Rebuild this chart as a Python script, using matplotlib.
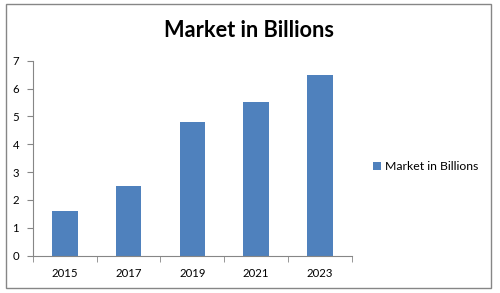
import numpy as np
import matplotlib.pyplot as plt
from matplotlib.patches import Rectangle

years = ["2015", "2017", "2019", "2021", "2023"]
market = [1.6, 2.5, 4.8, 5.5, 6.5]
y_ticks = [0, 1, 2, 3, 4, 5, 6, 7]

plt.rcParams['font.family'] = ['Lato', 'DejaVu Sans']

fig = plt.figure(figsize=(5, 2.93), dpi=100)
ax = fig.add_axes([0.066, 0.1273, 0.6374, 0.6655])

x = np.arange(len(years))
ax.bar(x, market, width=0.4, color="#4F81BD", label="Market in Billions")

ax.set_xlim(-0.5, len(years) - 0.5)
ax.set_ylim(0, 7)
ax.set_yticks(y_ticks)
ax.set_xticks(x)
ax.set_xticklabels(years)
ax.set_xticks(np.arange(-0.5, len(years), 1), minor=True)

ax.tick_params(axis='x', which='major', length=0, pad=9, labelsize=8.2)
ax.tick_params(axis='x', which='minor', length=4, color="#868686", direction='out')
ax.tick_params(axis='y', length=4, color="#868686", pad=6, labelsize=8.2)

for s in ["top", "right"]:
    ax.spines[s].set_visible(False)
for s in ["left", "bottom"]:
    ax.spines[s].set_color("#868686")
    ax.spines[s].set_linewidth(0.8)

fig.text(0.497, 0.875, "Market in Billions", ha="center", va="baseline",
         fontsize=15.7, fontweight="bold")

fig.legend(loc="center left", bbox_to_anchor=(0.745, 1 - 166.7 / 293), frameon=False,
           fontsize=8.8, handlelength=0.7, handleheight=0.7, handletextpad=0.3,
           borderpad=0, borderaxespad=0)

fig.patches.append(Rectangle((6 / 500, 1 - 288 / 293), 484.7 / 500, 284 / 293,
                             transform=fig.transFigure, fill=False,
                             edgecolor="#868686", linewidth=1))

fig.savefig("out.png", dpi=100)
